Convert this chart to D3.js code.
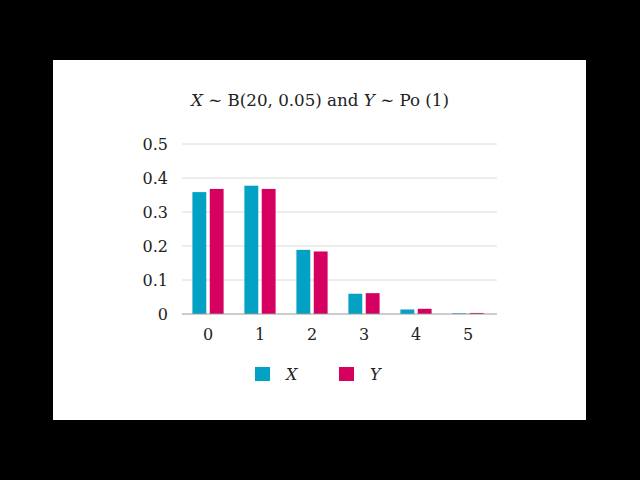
<!DOCTYPE html>
<html>
<head>
<meta charset="utf-8">
<script src="https://cdn.jsdelivr.net/npm/d3@7"></script>
<style>
  body { margin: 0; background: #000; }
  svg text { font-family: "DejaVu Serif", serif; fill: #222; }
</style>
</head>
<body>
<div id="chart"></div>
<script>
'use strict';

var categories = ["0", "1", "2", "3", "4", "5"];
var series = ["X", "Y"];
var binomValues = [0.3585, 0.3774, 0.1887, 0.0596, 0.0133, 0.0022];
var poissonValues = [0.3679, 0.3679, 0.1839, 0.0613, 0.0153, 0.0031];
var yTicks = [0, 0.1, 0.2, 0.3, 0.4, 0.5];
var colors = ["#03a1c4", "#d5005f"];

var svg = d3.select("#chart").append("svg")
    .attr("width", 640)
    .attr("height", 480);

svg.append("rect")
    .attr("width", 640).attr("height", 480)
    .attr("fill", "#000");

svg.append("rect")
    .attr("x", 53).attr("y", 60)
    .attr("width", 533).attr("height", 360)
    .attr("fill", "#fff");

// title with italic variable names
var title = svg.append("text")
    .attr("x", 320).attr("y", 106)
    .attr("text-anchor", "middle")
    .style("font-size", "16.7px");
title.append("tspan").style("font-style", "italic").text("X");
title.append("tspan").text(" ∼ B(20, 0.05) and ");
title.append("tspan").style("font-style", "italic").text("Y");
title.append("tspan").text(" ∼ Po (1)");

var x0 = d3.scaleBand()
    .domain(categories)
    .range([182, 494])
    .paddingInner(0.4)
    .paddingOuter(0.2);

var x1 = d3.scaleBand()
    .domain(series)
    .range([0, x0.bandwidth()])
    .paddingInner(0.2);

var y = d3.scaleLinear()
    .domain([0, 0.5])
    .range([314, 144]);

// gridlines
svg.append("g").selectAll("line")
    .data(yTicks.filter(d => d > 0))
    .enter().append("line")
    .attr("x1", 182).attr("x2", 497)
    .attr("y1", d => y(d)).attr("y2", d => y(d))
    .attr("stroke", "#dcdcdc")
    .attr("stroke-width", 1);

// y labels
svg.append("g").selectAll("text")
    .data(yTicks)
    .enter().append("text")
    .attr("x", 168)
    .attr("y", d => y(d))
    .attr("dy", "0.35em")
    .attr("text-anchor", "end")
    .style("font-size", "16px")
    .text(d => d === 0 ? "0" : d3.format(".1f")(d));

var rows = categories.map((c, i) => ({cat: c, values: [binomValues[i], poissonValues[i]]}));

var groups = svg.append("g").selectAll("g")
    .data(rows)
    .enter().append("g")
    .attr("transform", d => "translate(" + x0(d.cat) + ",0)");

groups.selectAll("rect")
    .data(d => d.values.map((v, j) => ({key: series[j], value: v, idx: j})))
    .enter().append("rect")
    .attr("x", d => x1(d.key))
    .attr("y", d => y(d.value))
    .attr("width", x1.bandwidth())
    .attr("height", d => y(0) - y(d.value))
    .attr("fill", d => colors[d.idx]);

// baseline
svg.append("line")
    .attr("x1", 182).attr("x2", 497)
    .attr("y1", y(0)).attr("y2", y(0))
    .attr("stroke", "#999")
    .attr("stroke-width", 1);

// x labels
svg.append("g").selectAll("text")
    .data(categories)
    .enter().append("text")
    .attr("x", d => x0(d) + x0.bandwidth() / 2)
    .attr("y", 340)
    .attr("text-anchor", "middle")
    .style("font-size", "16px")
    .text(d => d);

// legend
var legend = svg.append("g").selectAll("g")
    .data(series)
    .enter().append("g")
    .attr("transform", (d, i) => "translate(" + (255 + i * 84) + ",367)");

legend.append("rect")
    .attr("width", 15).attr("height", 14)
    .attr("fill", (d, i) => colors[i]);

legend.append("text")
    .attr("x", 31).attr("y", 13)
    .style("font-size", "16px")
    .style("font-style", "italic")
    .text(d => d);
</script>
</body>
</html>
